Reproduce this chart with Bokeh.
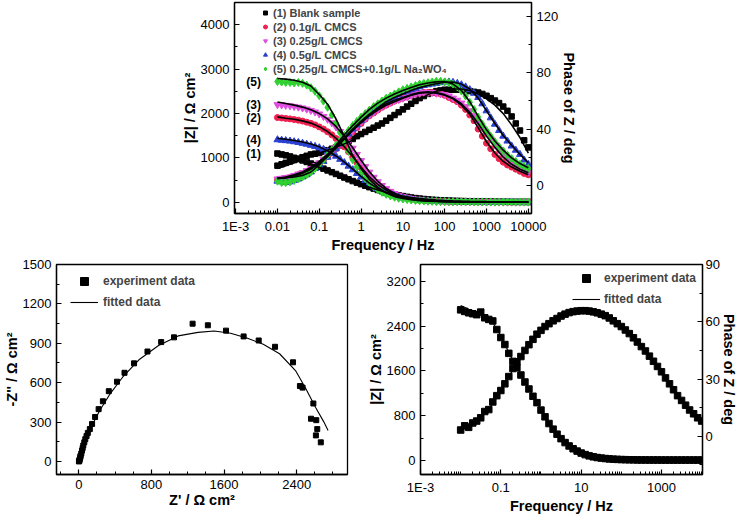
from bokeh.plotting import figure
from bokeh.models import (Range1d, LinearAxis, FixedTicker, Legend, LegendItem,
                          CustomJSTickFormatter)
from bokeh.layouts import column, row
from bokeh.core.properties import value
from bokeh.embed import file_html
from bokeh.resources import INLINE

FONT = "Liberation Sans"

# ---------------- data ----------------
freq = [0.01, 0.0126, 0.0158, 0.02, 0.0251, 0.0316, 0.0398, 0.0501, 0.0631, 0.0794,
        0.1, 0.126, 0.158, 0.2, 0.251, 0.316, 0.398, 0.501, 0.631, 0.794,
        1, 1.26, 1.58, 2, 2.51, 3.16, 3.98, 5.01, 6.31, 7.94,
        10, 12.6, 15.8, 20, 25.1, 31.6, 39.8, 50.1, 63.1, 79.4,
        100, 126, 158, 200, 251, 316, 398, 501, 631, 794,
        1000, 1259, 1585, 1995, 2512, 3162, 3981, 5012, 6310, 7943, 10000]
freq_fit = freq[::2]

labels_top = ["(1) Blank sample", "(2) 0.1g/L CMCS", "(3) 0.25g/L CMCS",
              "(4) 0.5g/L CMCS", "(5) 0.25g/L CMCS+0.1g/L Na\u2082WO\u2084"]
tags_top = ["(1)", "(2)", "(3)", "(4)", "(5)"]

z_blank = [1100, 1080, 1060, 1035, 1005, 975, 945, 910, 875, 840,
           800, 760, 720, 680, 640, 600, 560, 520, 480, 445,
           410, 375, 342, 310, 280, 252, 226, 202, 180, 160,
           142, 125, 110, 97, 86, 76, 67, 60, 54, 49,
           44, 40, 36, 33, 30, 27, 25, 23, 21, 19,
           18, 17, 16, 15, 14, 13, 12, 12, 11, 11, 10]
ph_blank = [14, 15, 16, 17, 18, 19, 20, 21, 22, 22.5,
            23, 24, 25, 26, 27, 28.5, 30, 31.5, 33, 35,
            36.5, 38, 39.5, 41, 42.5, 44, 46, 48, 50, 52,
            54, 56, 58, 60, 62, 63.5, 65, 66, 67, 67.5,
            68, 68, 68, 68, 68, 67.5, 67, 66.5, 66, 65,
            63.7, 62, 60.3, 58.5, 56, 53, 49, 44, 39, 32, 27]
z_blank_fit = [1130, 1075, 1010, 940, 865, 790, 712, 635, 558, 482, 410, 342, 281, 228, 182,
               143, 111, 86, 67, 54, 44, 36, 30, 25, 21, 18, 16, 14, 12, 11, 10]
ph_blank_fit = [12, 14, 16, 18.5, 21, 23, 25, 27, 29.5, 32, 35, 38.5, 42, 45.5, 49,
                53, 57, 61, 64.5, 67, 68, 68.5, 68.5, 67.5, 65, 61.5, 57, 51, 43, 34, 23]

z_01 = [1910, 1900, 1890, 1880, 1865, 1850, 1830, 1805, 1780, 1745,
        1700, 1650, 1590, 1520, 1440, 1350, 1250, 1140, 1020, 900,
        785, 675, 575, 485, 405, 335, 275, 225, 183, 150,
        122, 100, 82, 67, 55, 46, 38, 32, 27, 23,
        20, 17, 15, 13, 12, 11, 10, 9, 9, 8,
        8, 8, 7, 7, 7, 7, 7, 7, 7, 7, 7]
ph_01 = [4, 4.5, 5, 5.5, 6.5, 7.5, 8.5, 10, 11.5, 13.5,
         15.5, 18, 20.5, 23, 26, 29, 32, 35, 38, 41,
         44, 47, 49.5, 51.5, 53.5, 55.5, 57, 58.5, 60, 61,
         62, 63, 64, 65, 65.5, 66, 66, 66, 65.5, 65,
         64, 62.5, 61, 59.5, 57, 54, 50, 46, 40, 35,
         30, 26, 22, 19, 16.5, 14.5, 13, 11.5, 10, 8.5, 7.5]
z_01_fit = [1925, 1895, 1870, 1835, 1785, 1705, 1595, 1445, 1255, 1025, 790, 578, 405, 275, 182,
            121, 81, 55, 38, 27, 20, 15, 12, 10, 9, 8, 7, 7, 7, 7, 7]
ph_01_fit = [5, 5.5, 7, 9, 12, 16, 21, 27, 33, 39, 44.5, 49.5, 53.5, 57, 59.5,
             62, 64, 65.5, 66, 65.5, 64, 61.5, 57, 50.5, 41, 31, 23, 17, 13, 10, 7.5]

z_025 = [2200, 2195, 2185, 2175, 2160, 2145, 2125, 2100, 2070, 2035,
         1990, 1935, 1870, 1790, 1700, 1595, 1480, 1355, 1220, 1080,
         940, 805, 680, 565, 465, 380, 308, 248, 200, 160,
         128, 103, 84, 68, 56, 46, 38, 32, 27, 23,
         20, 17, 15, 13, 12, 11, 10, 9, 9, 8,
         8, 8, 7, 7, 7, 7, 7, 7, 7, 7, 7]
ph_025 = [4.5, 5, 5.5, 6, 7, 8, 9, 10.5, 12, 14,
          16, 18.5, 21, 24, 27, 30, 33, 36, 39, 42,
          45, 47.5, 50, 52, 54, 56, 57.5, 59, 60, 61,
          62, 63, 64, 65, 65.5, 66, 66, 66, 65.5, 65,
          64.5, 63.5, 62, 60.5, 58.5, 56, 53, 49.5, 45.5, 41,
          37, 33, 29, 25.5, 22, 19, 16.5, 14.5, 12.5, 11, 9.5]
z_025_fit = [2260, 2225, 2190, 2145, 2085, 2000, 1880, 1710, 1490, 1230, 950, 690, 475, 315, 205,
             130, 85, 57, 39, 28, 20, 15, 12, 10, 9, 8, 7, 7, 7, 7, 7]
ph_025_fit = [5, 6, 7.5, 9.5, 13, 17, 22, 28, 34, 40, 45.5, 50.5, 54.5, 58, 60.5,
              62.5, 64.5, 66, 66.5, 66, 64.5, 62, 58, 52, 44, 35, 27, 20, 15, 11.5, 9]

z_05 = [1410, 1400, 1390, 1380, 1365, 1350, 1330, 1310, 1285, 1260,
        1230, 1195, 1150, 1100, 1040, 970, 895, 815, 735, 650,
        570, 495, 425, 362, 305, 256, 213, 177, 147, 122,
        101, 84, 70, 58, 48, 40, 34, 29, 25, 22,
        19, 17, 15, 14, 13, 12, 11, 11, 10, 10,
        10, 10, 9, 9, 9, 9, 9, 9, 9, 9, 9]
ph_05 = [3, 2.5, 2, 2.5, 3.5, 4.5, 6, 7.5, 9.5, 12,
         14.5, 17, 20, 23, 26, 29.5, 33, 36.5, 40, 43,
         46, 49, 51.5, 54, 56, 58, 60, 61.5, 63, 64.5,
         66, 67, 68, 69, 70, 71, 71.5, 72, 72.5, 73,
         73.5, 73.5, 73.2, 72.5, 71.5, 70, 68, 65.5, 62.5, 58,
         53, 48, 43.5, 39, 35, 31.5, 28, 25, 22, 18, 15]
z_05_fit = [1445, 1420, 1395, 1360, 1315, 1250, 1160, 1045, 905, 750, 585, 435, 312, 218, 150,
            103, 71, 50, 36, 27, 20, 16, 13, 11, 10, 10, 9, 9, 9, 9, 9]
ph_05_fit = [5, 5.5, 6.5, 8.5, 11.5, 15.5, 20.5, 26.5, 33, 39.5, 45.5, 50.5, 55, 59.5, 62.5,
             65, 67.5, 69.5, 71, 72.3, 73.3, 73.5, 72, 68.5, 62, 53, 44, 35.5, 28.5, 22, 16]

z_w = [2720, 2710, 2700, 2700, 2690, 2700, 2680, 2640, 2580, 2500,
       2400, 2280, 2140, 1970, 1780, 1570, 1360, 1150, 960, 800,
       660, 540, 440, 355, 285, 228, 182, 145, 116, 94,
       77, 63, 52, 43, 36, 31, 27, 23, 20, 18,
       16, 15, 14, 13, 12, 11, 10, 10, 9, 9,
       9, 8, 8, 8, 8, 8, 8, 8, 8, 8, 8]
ph_w = [3, 2, 2, 2.5, 3.5, 4.5, 6, 7.5, 9.5, 12,
        15, 18, 21.5, 25, 28.5, 32, 35.5, 39, 42.5, 45.5,
        48.5, 51, 53.5, 56, 58, 60, 62, 63.5, 65, 66.5,
        68, 69, 70, 71, 72, 72.5, 73, 73.5, 74, 74,
        73.5, 73, 72, 70, 67, 63.5, 59, 54, 48.5, 43.5,
        39, 35, 31, 27.5, 24.5, 21.5, 19, 17, 15, 13.5, 12]
z_w_fit = [2790, 2775, 2750, 2705, 2620, 2430, 2210, 1880, 1480, 1060, 760, 520, 340, 215, 130,
           86, 58, 40, 29, 22, 17, 14, 12, 10, 9, 8, 8, 8, 8, 8, 8]
ph_w_fit = [5, 5.5, 6, 7, 9.5, 14.5, 21, 28.5, 36, 42.5, 48.5, 54, 58.5, 62, 65,
            67.5, 69.5, 71.5, 72.8, 73.6, 73.8, 72, 67.5, 59.5, 49, 39.5, 31.5, 25, 19.5, 15.5, 12.5]

# Nyquist (bottom left)
zre = [2, 4, 7, 10, 14, 17, 21, 28, 36, 43, 50, 61, 72, 86, 100, 122, 147, 180, 219, 266,
       331, 421, 504, 609, 757, 908, 1049, 1254, 1422, 1622, 1816, 1982, 2162, 2360,
       2436, 2465, 2584, 2558, 2616, 2627, 2612, 2666]
zim = [0, 2, 5, 15, 24, 33, 43, 60, 82, 101, 121, 145, 169, 193, 217, 246, 285, 338, 398, 458,
       535, 607, 675, 747, 837, 909, 945, 1049, 1037, 996, 952, 921, 873, 755,
       574, 562, 441, 325, 314, 246, 198, 145]
zre_fit = [0, 20, 50, 94, 159, 231, 339, 483, 663, 879, 1095, 1314, 1492, 1672, 1852,
           2032, 2212, 2392, 2500, 2609, 2699, 2746]
zim_fit = [0, 45, 116, 194, 290, 387, 508, 641, 774, 883, 956, 983, 993, 976, 940,
           892, 820, 687, 555, 410, 301, 236]

# Bode (bottom right)
z_br = [2690, 2662, 2638, 2621, 2604, 2650, 2548, 2519, 2492, 2339,
        2196, 2071, 1913, 1770, 1658, 1527, 1402, 1277, 1147, 1033,
        900, 780, 660, 560, 470, 390, 320, 260, 210, 168,
        133, 105, 83, 66, 53, 43, 35, 29, 24, 20,
        17, 15, 13, 12, 11, 10, 10, 9, 9, 9,
        8, 8, 8, 8, 8, 8, 8, 8, 8, 8, 8]
ph_br = [3.3, 5.5, 4.7, 7, 8, 9.7, 13, 14, 18, 21.3,
         24, 27.5, 31.3, 35.5, 39, 41.8, 45, 48, 50.8, 53.5,
         55.5, 57.5, 59, 60.5, 61.7, 63, 64, 64.8, 65.3, 65.6,
         65.8, 65.8, 65.6, 65.2, 64.7, 64, 63.2, 62, 60.5, 59,
         57.5, 55.7, 53.8, 51.6, 49.4, 47, 44.7, 42, 39.3, 36.6,
         33.8, 30.6, 27.5, 24.4, 21.3, 18.8, 16.3, 13.8, 11.8, 9.7, 8]
z_br_fit = [2770, 2700, 2640, 2580, 2460, 2230, 1930, 1660, 1410, 1160, 910, 670, 475, 325, 213,
            135, 85, 55, 37, 26, 19, 15, 12, 10, 9, 8, 8, 8, 8, 8, 8]
ph_br_fit = [5, 6.5, 8.5, 12, 17, 23.5, 31, 38.5, 45, 50.5, 55.3, 58.8, 61.5, 63.5, 64.9,
             65.7, 65.7, 65, 63.3, 60.6, 57.5, 53.9, 49.5, 44.8, 39.3, 33.8, 27.5, 21.4, 16.3, 12, 8.5]

# ---------------- styling helpers ----------------
LOG_FMT = CustomJSTickFormatter(code="""
if (tick < 0.0015) { return "1E-3"; }
if (tick >= 1) { return tick.toFixed(0); }
return parseFloat(tick.toPrecision(1)).toString();
""")
log_minor = [m * 10.0 ** e for e in range(-3, 5) for m in range(1, 10)]


def style_axis(ax, label_standoff=0, tick_standoff=5):
    ax.axis_label_text_font = FONT
    ax.axis_label_text_font_style = "bold"
    ax.axis_label_text_font_size = "14.5px"
    ax.major_label_text_font = FONT
    ax.major_label_text_font_style = "normal"
    ax.major_label_text_font_size = "13px"
    ax.major_label_text_color = "black"
    ax.axis_label_text_color = "black"
    ax.major_tick_in = 5
    ax.major_tick_out = 0
    ax.minor_tick_in = 3
    ax.minor_tick_out = 0
    ax.axis_line_width = 1.3
    ax.major_tick_line_width = 1.2
    ax.major_label_standoff = tick_standoff
    ax.axis_label_standoff = label_standoff


def make_fig(w, h, xr, yr, log_x, bl, br, bt, bb):
    kw = dict(width=w, height=h, x_range=xr, y_range=yr, output_backend="svg",
              toolbar_location=None, min_border_left=bl, min_border_right=br,
              min_border_top=bt, min_border_bottom=bb)
    if log_x:
        kw["x_axis_type"] = "log"
    p = figure(**kw)
    p.xgrid.visible = False
    p.ygrid.visible = False
    p.outline_line_color = "black"
    p.outline_line_width = 1.3
    p.background_fill_color = "white"
    p.border_fill_color = "white"
    return p


def style_legend(lg, gw, gh, standoff, fsize):
    lg.label_text_font = FONT
    lg.label_text_font_style = "bold"
    lg.label_text_font_size = fsize
    lg.border_line_alpha = 0
    lg.background_fill_alpha = 0
    lg.padding = 0
    lg.margin = 0
    lg.spacing = 1
    lg.glyph_width = gw
    lg.glyph_height = gh
    lg.label_height = gh
    lg.label_standoff = standoff


# ---------------- top figure ----------------
pt = make_fig(600, 255, Range1d(0.00094, 11900), Range1d(-250, 4500), True, 234, 69, 2, 42)
pt.extra_y_ranges = {"ph": Range1d(-20, 130)}
pt.xaxis.ticker = FixedTicker(ticks=[0.001, 0.01, 0.1, 1, 10, 100, 1000, 10000], minor_ticks=log_minor)
pt.xaxis.formatter = LOG_FMT
pt.xaxis.axis_label = "Frequency / Hz"
pt.yaxis.ticker = FixedTicker(ticks=[0, 1000, 2000, 3000, 4000], minor_ticks=list(range(-500, 4501, 500)))
pt.yaxis.axis_label = "|Z| / \u03a9 cm\u00b2"
rax = LinearAxis(y_range_name="ph", axis_label="Phase of Z / deg",
                 ticker=FixedTicker(ticks=[0, 40, 80, 120], minor_ticks=list(range(-20, 131, 20))))
pt.add_layout(rax, "right")
for ax in [pt.xaxis[0], pt.yaxis[0], rax]:
    style_axis(ax)

series = [
    (z_blank, ph_blank, z_blank_fit, ph_blank_fit, "square", "black", 5.5),
    (z_01, ph_01, z_01_fit, ph_01_fit, "circle", "#f0204f", 6),
    (z_025, ph_025, z_025_fit, ph_025_fit, "inverted_triangle", "#e04ee0", 7),
    (z_05, ph_05, z_05_fit, ph_05_fit, "triangle", "#2a40d0", 7),
    (z_w, ph_w, z_w_fit, ph_w_fit, "diamond", "#2fd02f", 8),
]
legend_renderers = []
for z, ph, zf, phf, mk, col, sz in series:
    r = pt.scatter(freq, z, marker=mk, size=sz, fill_color=col, line_color=col)
    pt.scatter(freq, ph, marker=mk, size=sz, fill_color=col, line_color=col, y_range_name="ph")
    legend_renderers.append(r)
for z, ph, zf, phf, mk, col, sz in series:
    pt.line(freq_fit, zf, line_color="black", line_width=1.6)
    pt.line(freq_fit, phf, line_color="black", line_width=1.6, y_range_name="ph")

pt.text(x=[0.0027] * 5, y=[z_blank[0], z_01[0], z_025[0], z_05[0], z_w[0]], text=tags_top,
        text_font=value(FONT), text_font_style="bold", text_font_size="12px",
        text_align="center", text_baseline="middle", text_color="black")

lg_top = Legend(items=[LegendItem(label=lab, renderers=[r]) for lab, r in zip(labels_top, legend_renderers)],
                location=(26, 138))
style_legend(lg_top, 10, 13, 3, "11px")
pt.add_layout(lg_top)

# ---------------- bottom left (Nyquist) ----------------
pbl = make_fig(364, 261, Range1d(-245, 2960), Range1d(-100, 1500), False, 49, 17, 9, 42)
pbl.xaxis.ticker = FixedTicker(ticks=[0, 800, 1600, 2400], minor_ticks=list(range(-200, 2961, 200)))
pbl.yaxis.ticker = FixedTicker(ticks=[0, 300, 600, 900, 1200, 1500], minor_ticks=list(range(-150, 1501, 150)))
pbl.xaxis.axis_label = "Z' / \u03a9 cm\u00b2"
pbl.yaxis.axis_label = "-Z'' / \u03a9 cm\u00b2"
for ax in [pbl.xaxis[0], pbl.yaxis[0]]:
    style_axis(ax)
r_exp = pbl.scatter(zre, zim, marker="square", size=5, color="black")
r_fit = pbl.line(zre_fit, zim_fit, line_color="black", line_width=1.1)
lg_bl = Legend(items=[LegendItem(label="experiment data", renderers=[r_exp]),
                      LegendItem(label="fitted data", renderers=[r_fit])], location=(14, 162))
style_legend(lg_bl, 28, 20, 5, "12px")
pbl.add_layout(lg_bl)

# ---------------- bottom right (Bode) ----------------
pbr = make_fig(376, 261, Range1d(0.001, 10500), Range1d(-250, 3500), True, 52, 38, 9, 42)
pbr.extra_y_ranges = {"ph": Range1d(-20, 90)}
pbr.xaxis.ticker = FixedTicker(ticks=[0.001, 0.1, 10, 1000], minor_ticks=log_minor)
pbr.xaxis.formatter = LOG_FMT
pbr.xaxis.axis_label = "Frequency / Hz"
pbr.yaxis.ticker = FixedTicker(ticks=[0, 800, 1600, 2400, 3200], minor_ticks=list(range(-400, 3501, 400)))
pbr.yaxis.axis_label = "|Z| / \u03a9 cm\u00b2"
rax2 = LinearAxis(y_range_name="ph", axis_label="Phase of Z / deg",
                  ticker=FixedTicker(ticks=[0, 30, 60, 90], minor_ticks=list(range(-15, 91, 15))))
pbr.add_layout(rax2, "right")
for ax in [pbr.xaxis[0], pbr.yaxis[0]]:
    style_axis(ax)
style_axis(rax2, label_standoff=-2, tick_standoff=3)
r_exp2 = pbr.scatter(freq, z_br, marker="square", size=6.5, color="black")
pbr.scatter(freq, ph_br, marker="square", size=6.5, color="black", y_range_name="ph")
r_fit2 = pbr.line(freq_fit, z_br_fit, line_color="black", line_width=1.1)
pbr.line(freq_fit, ph_br_fit, line_color="black", line_width=1.1, y_range_name="ph")
lg_br = Legend(items=[LegendItem(label="experiment data", renderers=[r_exp2]),
                      LegendItem(label="fitted data", renderers=[r_fit2])], location=(152, 165))
style_legend(lg_br, 28, 20, 4, "12px")
pbr.add_layout(lg_br)

layout = column(pt, row(pbl, pbr))
open("out.html", "w").write(file_html(layout, INLINE))
